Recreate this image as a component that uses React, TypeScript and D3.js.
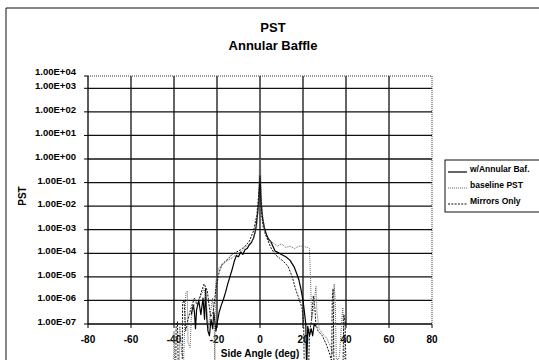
import React from 'react';
import * as d3 from 'd3';

// axis ticks
const angleTicks = [-80, -60, -40, -20, 0, 20, 40, 60, 80];
const pstTicks = [1e4, 1e3, 1e2, 1e1, 1e0, 1e-1, 1e-2, 1e-3, 1e-4, 1e-5, 1e-6, 1e-7];
const pstTickLabels = ['1.00E+04', '1.00E+03', '1.00E+02', '1.00E+01', '1.00E+00', '1.00E-01',
  '1.00E-02', '1.00E-03', '1.00E-04', '1.00E-05', '1.00E-06', '1.00E-07'];

// series names (legend order)
const seriesNames = ['w/Annular Baf.', 'baseline PST', 'Mirrors Only'];

// w/Annular Baf. : angle (deg) and PST exponent (log10)
const annularAngle = [-32, -31, -30.5, -30, -29.5, -28.5, -27.5, -26.5, -25.8, -25.3, -24.8, -24.2, -23.5, -22.8, -22,
  -21.5, -20.5, -20, -19, -18, -17, -16, -15, -14, -13, -12, -11, -10, -9, -8, -7, -6, -5, -4, -3, -2, -1.2, -0.6,
  -0.2, 0, 0.2, 0.6, 1.2, 2, 3, 4, 5, 6, 7, 8, 10, 12, 14, 16, 17, 18, 19, 20, 20.8, 21.3, 21.7, 22.2, 23, 23.8,
  24.5, 25.2, 26];
const annularExp = [-6.6, -6.2, -6.5, -7.2, -6.4, -6.0, -6.6, -5.9, -6.8, -5.5, -6.7, -7.3, -7.5, -6.8, -7.2,
  -6.5, -7.3, -7.0, -6.5, -6.2, -5.95, -5.65, -5.3, -5.0, -4.7, -4.35, -4.1, -4.15, -3.95, -4.05, -3.85, -3.8,
  -3.65, -3.55, -3.35, -3.0, -2.4, -1.8, -1.0, -0.7, -1.1, -1.9, -2.5, -2.9, -3.2, -3.4, -3.5, -3.7, -3.9, -3.95,
  -4.05, -4.15, -4.3, -4.6, -4.85, -5.1, -5.5, -6.0, -6.6, -7.0, -9.0, -7.1, -7.5, -7.2, -7.5, -7.0, -7.1];

// baseline PST
const baselineAngle = [-40.2, -40, -39.6, -37.6, -37.3, -36.5, -35.5, -35.2, -34.5, -33.8, -33.5, -32.5, -32, -31,
  -30, -29, -28, -27, -26, -25, -24, -23, -22, -21.3, -21, -20.7, -20, -19, -17, -15, -13, -11, -9, -7, -5, -3,
  -1.5, -0.8, -0.3, 0, 0.3, 0.8, 1.5, 2.5, 4, 6, 8, 10, 12, 14, 16, 18, 20, 22, 23, 23.5, 24, 25, 26, 26.5, 27.5,
  29, 31, 33, 34, 34.5, 35, 35.5, 36.5, 37, 38, 38.5, 39, 39.5];
const baselineExp = [-9.0, -7.3, -9.0, -9.0, -7.1, -8.2, -8.5, -7.6, -5.7, -5.6, -7.8, -8.0, -6.8, -6.3,
  -6.1, -6.0, -5.9, -5.7, -5.5, -6.0, -7.2, -6.5, -5.9, -6.9, -9.0, -5.3, -4.9, -4.6, -4.45, -4.3, -4.2, -4.05,
  -3.95, -3.75, -3.6, -3.4, -2.9, -2.0, -0.5, 3.8, -0.5, -2.0, -2.6, -3.2, -3.45, -3.55, -3.7, -3.6, -3.75,
  -3.7, -3.8, -3.7, -3.7, -3.75, -3.8, -5.0, -6.8, -6.3, -5.4, -6.5, -7.2, -7.4, -7.6, -8.0, -8.3, -5.3, -6.0,
  -8.5, -8.5, -8.3, -6.9, -6.3, -7.4, -9.0];

// Mirrors Only
const mirrorsAngle = [-39.2, -39, -38.4, -38, -36.2, -36, -35.3, -34.6, -33.5, -32, -30.5, -29, -27.5, -26, -24.5,
  -23, -21.8, -20.5, -19, -17.5, -15, -13, -11, -9, -7, -5, -3, -1.5, -0.7, -0.2, 0, 0.3, 0.8, 1.5, 3, 5, 7, 9,
  11, 13, 15, 16.5, 18, 19.5, 20.3, 20.6, 22.6, 23, 24, 24.8, 25.5, 26, 27, 29, 31, 32.5, 33.3, 33.6, 34, 34.4,
  38.6, 39, 39.6, 40];
const mirrorsExp = [-9.0, -7.0, -6.9, -9.0, -9.0, -6.1, -6.0, -7.3, -6.8, -6.3, -5.9, -6.2, -5.7, -5.3, -5.6,
  -6.7, -6.5, -5.5, -4.8, -4.45, -4.25, -4.05, -3.95, -3.85, -3.7, -3.5, -3.05, -2.4, -1.6, -1.1, -1.3, -1.6,
  -2.4, -2.9, -3.3, -3.75, -4.05, -4.2, -4.35, -4.55, -5.0, -5.5, -5.9, -6.3, -6.9, -9.0, -9.0, -7.4, -6.8, -5.8,
  -6.3, -7.0, -7.3, -7.5, -7.9, -8.3, -8.6, -6.0, -5.5, -8.8, -8.8, -6.6, -6.9, -9.0];

const W = 539;
const H = 360;
const font = 'Arial, "Liberation Sans", sans-serif';

export default function App() {
  const x = d3.scaleLinear().domain([-80, 80]).range([88, 432]);
  // the axis in the picture is squeezed in its top decade
  const y = d3.scaleLog().domain([1e-7, 1e3, 1e4]).range([324, 88.3, 76]);

  const line = d3.line<[number, number]>()
    .x(d => x(d[0]))
    .y(d => y(Math.pow(10, d[1])));

  const series = [
    { pts: d3.zip(annularAngle, annularExp) as [number, number][], stroke: '#000', width: 1.2, dash: null },
    { pts: d3.zip(baselineAngle, baselineExp) as [number, number][], stroke: '#666', width: 1, dash: '1,1' },
    { pts: d3.zip(mirrorsAngle, mirrorsExp) as [number, number][], stroke: '#111', width: 1, dash: '2,1.3' },
  ];

  const [x0, x1] = x.range();
  const yTop = y(1e4);
  const yBot = y(1e-7);

  return (
    <svg width={W} height={H} style={{ position: 'absolute', left: 0, top: 0, background: '#fff' }}
      fontFamily={font}>
      <rect x={0} y={0} width={W} height={H} fill="#fff" />
      {/* chart frame */}
      <line x1={6} y1={8} x2={W} y2={8} stroke="#111" strokeWidth={1} />
      <line x1={6} y1={8} x2={6} y2={H} stroke="#111" strokeWidth={1} />

      <text x={273} y={32} textAnchor="middle" fontSize={13} fontWeight="bold">PST</text>
      <text x={273} y={50} textAnchor="middle" fontSize={13} fontWeight="bold">Annular Baffle</text>

      {/* grid */}
      {pstTicks.filter(t => t < 1e4 && t > 1e-7).map(t => (
        <line key={'h' + t} x1={x0} x2={x1} y1={y(t)} y2={y(t)} stroke="#111" strokeWidth={1.3} />
      ))}
      {angleTicks.filter(t => t > -80 && t < 80).map(t => (
        <line key={'v' + t} x1={x(t)} x2={x(t)} y1={yTop} y2={yBot} stroke="#111" strokeWidth={1.3} />
      ))}
      <line x1={x0} x2={x1} y1={yTop} y2={yTop} stroke="#333" strokeWidth={1} strokeDasharray="1,1" />
      <line x1={x1} x2={x1} y1={yTop} y2={yBot} stroke="#333" strokeWidth={1} strokeDasharray="1,1" />

      {/* axes */}
      <line x1={x0} x2={x0} y1={yTop} y2={yBot} stroke="#000" strokeWidth={1.3} />
      <line x1={x0} x2={x1} y1={yBot} y2={yBot} stroke="#000" strokeWidth={1.3} />
      {pstTicks.map((t, i) => (
        <g key={'yt' + t}>
          <line x1={x0 - 4} x2={x0} y1={y(t)} y2={y(t)} stroke="#000" strokeWidth={1} />
          <text x={76} y={t === 1e4 ? 72 : y(t) - 1.5} textAnchor="end" dominantBaseline="middle"
            fontSize={9.5} fontWeight="bold">
            {pstTickLabels[i]}
          </text>
        </g>
      ))}
      {angleTicks.map(t => (
        <g key={'xt' + t}>
          <line x1={x(t)} x2={x(t)} y1={yBot} y2={yBot + 4} stroke="#000" strokeWidth={1} />
          <text x={x(t)} y={343} textAnchor="middle" fontSize={10} fontWeight="bold">{t}</text>
        </g>
      ))}
      <text transform="translate(26,196) rotate(-90)" textAnchor="middle" fontSize={10} fontWeight="bold">PST</text>
      <text x={260} y={357} textAnchor="middle" fontSize={10} fontWeight="bold">Side Angle (deg)</text>

      {/* curves */}
      {series.map((s, i) => (
        <path key={'s' + i} d={line(s.pts) || ''} fill="none" stroke={s.stroke} strokeWidth={s.width}
          strokeDasharray={s.dash || undefined} strokeLinejoin="round" />
      ))}

      {/* legend */}
      <rect x={445} y={160} width={100} height={52} fill="#fff" stroke="#111" strokeWidth={1} />
      {seriesNames.map((name, i) => (
        <g key={name}>
          <line x1={448} x2={467} y1={172 + i * 16} y2={172 + i * 16} stroke={series[i].stroke}
            strokeWidth={series[i].width} strokeDasharray={series[i].dash || undefined} />
          <text x={470} y={172 + i * 16} fontSize={8.5} fontWeight="bold">{name}</text>
        </g>
      ))}
    </svg>
  );
}
